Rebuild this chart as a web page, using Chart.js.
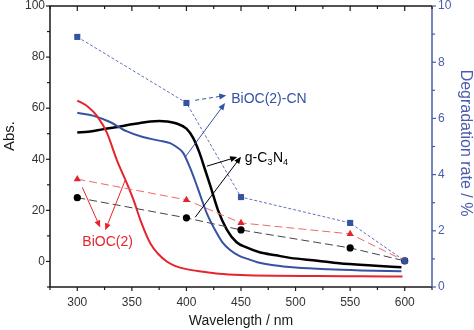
<!DOCTYPE html>
<html>
<head>
<meta charset="utf-8">
<script src="https://cdn.jsdelivr.net/npm/chart.js@4.4.1/dist/chart.umd.min.js"></script>
<style>
  html, body { margin: 0; padding: 0; background: #fff; }
  #wrap { width: 474px; height: 330px; }
</style>
</head>
<body>
<div id="wrap"><canvas id="c" width="474" height="330"></canvas></div>
<script>
// Absorbance spectra (left axis, Abs.)
const redWave   = [300, 310, 318, 327, 336, 347, 352, 358, 367, 374, 382, 390, 400, 415, 430, 450, 480, 520, 560, 598];
const redAbs    = [63, 60.5, 57, 50.5, 40, 29, 23.5, 16, 7, 3, 0, -1.8, -3, -4, -4.8, -5.3, -5.6, -5.7, -5.8, -5.9];

const blackWave = [300, 310, 324, 335, 345, 355, 367, 375, 382, 391, 400, 406, 412, 417, 422, 429, 437, 446, 455, 467, 482, 495, 520, 540, 570, 597];
const blackAbs  = [50.5, 50.8, 51.8, 52.5, 53.3, 54, 54.8, 55, 54.8, 54, 52, 48.5, 42.5, 36, 29.5, 20, 12.5, 7.5, 5.5, 3.6, 2.4, 1.4, 0.3, -0.7, -1.6, -2.3];

const blueWave  = [300, 315, 330, 345, 360, 375, 385, 391, 397, 403, 408, 413, 419, 426, 433, 440, 448, 456, 465, 480, 500, 530, 560, 597];
const blueAbs   = [58.2, 57, 54.6, 51, 48.7, 47.3, 46.3, 44.8, 42.5, 37, 31.5, 25.5, 18.5, 12.5, 7.5, 4.5, 2.3, 1, -0.3, -1.5, -2.4, -3.1, -3.5, -3.8];

// Degradation rate (right axis, %)
const rateWave     = [300, 400, 450, 550, 600];
const rateBiOC2CN  = [8.9, 6.55, 3.2, 2.28, 0.93];
const rateBiOC2    = [3.84, 3.1, 2.28, 1.89, 0.93];
const rateGC3N4    = [3.18, 2.46, 2.03, 1.39, 0.93];

// Axis ticks
const xTicks  = [300, 350, 400, 450, 500, 550, 600];
const yTicks  = [0, 20, 40, 60, 80, 100];
const y2Ticks = [0, 2, 4, 6, 8, 10];

const RED = '#e4262c';
const BLUE = '#3552a3';
const AXBLUE = '#4a5cab';
const FONT = "'Liberation Sans', Arial, sans-serif";

const pts = (xs, ys) => xs.map((x, i) => ({ x, y: ys[i] }));

// Callout arrows, in data units (x: nm, y: Abs.)
const arrows = [
  { from: [408, 63.1], to: [436.5, 65.0], color: BLUE, dash: [4, 3] },
  { from: [398.8, 40.8], to: [435.4, 62.0], color: BLUE, dash: [] },
  { from: [418.7, 37.3], to: [446.5, 40.9], color: '#000', dash: [] },
  { from: [408, 17.3], to: [450.0, 41.0], color: '#000', dash: [] },
  { from: [304.6, 29.0], to: [321.0, 13.3], color: RED, dash: [] },
  { from: [343.9, 31.8], to: [325.6, 12.2], color: RED, dash: [] }
];

function drawArrow(ctx, x1, y1, x2, y2, color, dash) {
  const ang = Math.atan2(y2 - y1, x2 - x1);
  const head = 7, half = 3;
  ctx.save();
  ctx.strokeStyle = color;
  ctx.fillStyle = color;
  ctx.lineWidth = 1;
  ctx.setLineDash(dash);
  ctx.beginPath();
  ctx.moveTo(x1, y1);
  ctx.lineTo(x2 - Math.cos(ang) * head * 0.8, y2 - Math.sin(ang) * head * 0.8);
  ctx.stroke();
  ctx.setLineDash([]);
  ctx.beginPath();
  ctx.moveTo(x2, y2);
  ctx.lineTo(x2 - Math.cos(ang) * head + Math.sin(ang) * half, y2 - Math.sin(ang) * head - Math.cos(ang) * half);
  ctx.lineTo(x2 - Math.cos(ang) * head - Math.sin(ang) * half, y2 - Math.sin(ang) * head + Math.cos(ang) * half);
  ctx.closePath();
  ctx.fill();
  ctx.restore();
}

const annotations = {
  id: 'annotations',
  afterDatasetsDraw(chart) {
    const { ctx, scales: { x, y } } = chart;
    arrows.forEach(a => drawArrow(ctx,
      x.getPixelForValue(a.from[0]), y.getPixelForValue(a.from[1]),
      x.getPixelForValue(a.to[0]), y.getPixelForValue(a.to[1]), a.color, a.dash));

    ctx.save();
    ctx.textBaseline = 'middle';
    ctx.textAlign = 'left';
    ctx.font = '14px ' + FONT;
    ctx.fillStyle = BLUE;
    ctx.fillText('BiOC(2)-CN', x.getPixelForValue(441), y.getPixelForValue(63.5));
    ctx.fillStyle = RED;
    ctx.fillText('BiOC(2)', x.getPixelForValue(304.6), y.getPixelForValue(7.6));

    // g-C3N4 with subscripts
    ctx.fillStyle = '#000';
    let gx = x.getPixelForValue(453.5);
    const gy = y.getPixelForValue(40.6);
    const parts = [['g-C', false], ['3', true], ['N', false], ['4', true]];
    parts.forEach(([t, sub]) => {
      ctx.font = (sub ? '9px ' : '14px ') + FONT;
      ctx.fillText(t, gx, sub ? gy + 5 : gy);
      gx += ctx.measureText(t).width + (sub ? 0.5 : 0);
    });
    ctx.restore();
  }
};

const frame = {
  id: 'frame',
  afterDraw(chart) {
    const { ctx, chartArea: a, scales: { x, y, y2 } } = chart;
    ctx.save();
    ctx.lineWidth = 1.5;
    ctx.lineCap = 'butt';
    // box
    ctx.strokeStyle = '#1a1a1a';
    ctx.beginPath();
    ctx.moveTo(a.right, a.top); ctx.lineTo(a.left, a.top);
    ctx.lineTo(a.left, a.bottom); ctx.lineTo(a.right, a.bottom);
    ctx.stroke();
    ctx.strokeStyle = AXBLUE;
    ctx.beginPath();
    ctx.moveTo(a.right, a.top); ctx.lineTo(a.right, a.bottom);
    ctx.stroke();

    ctx.lineWidth = 1.2;
    ctx.strokeStyle = '#1a1a1a';
    // bottom (outward) and top (inward) ticks
    for (let v = 275; v <= 625; v += 25) {
      const px = x.getPixelForValue(v);
      const major = v % 50 === 0;
      ctx.beginPath();
      ctx.moveTo(px, a.bottom); ctx.lineTo(px, a.bottom + (major ? 4 : 3));
      ctx.moveTo(px, a.top); ctx.lineTo(px, a.top + (major ? 5 : 3));
      ctx.stroke();
    }
    // left ticks (outward)
    for (let v = -10; v <= 100; v += 10) {
      const py = y.getPixelForValue(v);
      const major = v % 20 === 0;
      ctx.beginPath();
      ctx.moveTo(a.left, py); ctx.lineTo(a.left - (major ? 4 : 3), py);
      ctx.stroke();
    }
    // right ticks (outward, blue)
    ctx.strokeStyle = AXBLUE;
    for (let v = 0; v <= 10; v += 1) {
      const py = y2.getPixelForValue(v);
      const major = v % 2 === 0;
      ctx.beginPath();
      ctx.moveTo(a.right, py); ctx.lineTo(a.right + (major ? 4 : 3), py);
      ctx.stroke();
    }

    // axis titles
    ctx.fillStyle = '#1a1a1a';
    ctx.font = '14px ' + FONT;
    ctx.textAlign = 'center';
    ctx.textBaseline = 'middle';
    ctx.fillText('Wavelength / nm', (a.left + a.right) / 2, 321);

    ctx.save();
    ctx.translate(10, 136);
    ctx.rotate(-Math.PI / 2);
    ctx.font = '15px ' + FONT;
    ctx.fillText('Abs.', 0, 0);
    ctx.restore();

    ctx.save();
    ctx.translate(465, 143);
    ctx.rotate(Math.PI / 2);
    ctx.font = '16px ' + FONT;
    ctx.fillStyle = AXBLUE;
    ctx.fillText('Degradation rate / %', 0, 0);
    ctx.restore();
    ctx.restore();
  }
};

const absLine = (label, xs, ys, color, width) => ({
  label, data: pts(xs, ys), yAxisID: 'y',
  borderColor: color, borderWidth: width, pointRadius: 0,
  cubicInterpolationMode: 'monotone', fill: false, order: 2
});

const rateLine = (label, ys, color, lineColor, dash, style, radius) => ({
  label, data: pts(rateWave, ys), yAxisID: 'y2',
  borderColor: lineColor, borderWidth: 1, borderDash: dash,
  pointStyle: style, pointRadius: radius, pointBackgroundColor: color,
  pointBorderColor: color, pointBorderWidth: 0, tension: 0, fill: false, order: 1
});

new Chart(document.getElementById('c'), {
  type: 'line',
  data: {
    datasets: [
      rateLine('BiOC(2)-CN rate', rateBiOC2CN, BLUE, '#6171b8', [3, 2], 'rect', 4.3),
      rateLine('BiOC(2) rate', rateBiOC2, RED, '#ee6a6a', [8, 4], 'triangle', 4.2),
      rateLine('g-C3N4 rate', rateGC3N4, '#000', '#444', [8, 4], 'circle', 3.6),
      absLine('BiOC(2)', redWave, redAbs, RED, 2),
      absLine('BiOC(2)-CN', blueWave, blueAbs, BLUE, 2),
      absLine('g-C3N4', blackWave, blackAbs, '#000', 2.5)
    ]
  },
  options: {
    responsive: false,
    animation: false,
    devicePixelRatio: 1,
    layout: { padding: { top: 6, left: 0, right: 0, bottom: 0 } },
    plugins: { legend: { display: false }, tooltip: { enabled: false } },
    scales: {
      x: {
        type: 'linear', min: 275, max: 625,
        grid: { display: false, drawTicks: false },
        border: { display: false },
        ticks: { color: '#333', font: { family: FONT, size: 12 }, padding: 8, maxRotation: 0, autoSkip: false },
        afterBuildTicks: s => { s.ticks = xTicks.map(value => ({ value })); },
        afterFit: s => { s.height = 43; }
      },
      y: {
        type: 'linear', position: 'left', min: -10, max: 100,
        grid: { display: false, drawTicks: false },
        border: { display: false },
        ticks: { color: '#333', font: { family: FONT, size: 12, lineHeight: 0 }, padding: 5 },
        afterBuildTicks: s => { s.ticks = yTicks.map(value => ({ value })); },
        afterFit: s => { s.width = 50; }
      },
      y2: {
        type: 'linear', position: 'right', min: 0, max: 10,
        grid: { display: false, drawTicks: false },
        border: { display: false },
        ticks: { color: AXBLUE, font: { family: FONT, size: 12, lineHeight: 0 }, padding: 6 },
        afterBuildTicks: s => { s.ticks = y2Ticks.map(value => ({ value })); },
        afterFit: s => { s.width = 42; }
      }
    }
  },
  plugins: [annotations, frame]
});
</script>
</body>
</html>
